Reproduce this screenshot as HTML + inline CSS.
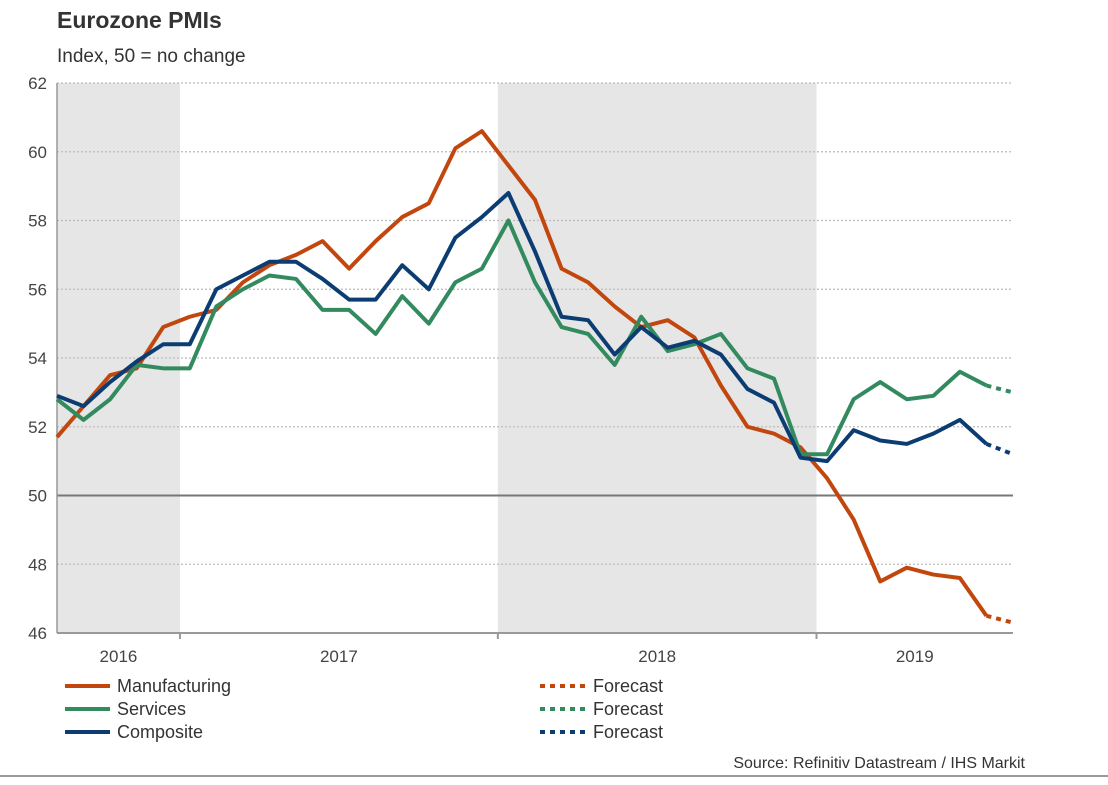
<!DOCTYPE html>
<html><head><meta charset="utf-8"><style>
body{margin:0;background:#fff;font-family:"Liberation Sans",Arial,sans-serif;}
svg text{font-family:"Liberation Sans",Arial,sans-serif;}
</style></head><body>
<svg id="chart" width="1108" height="780" viewBox="0 0 1108 780" xmlns="http://www.w3.org/2000/svg">
<text x="57" y="28" font-size="23" font-weight="bold" fill="#333">Eurozone PMIs</text>
<text x="57" y="62" font-size="19" fill="#333">Index, 50 = no change</text>
<g id="plot"></g>
<g font-size="18" fill="#333">
<line x1="65" y1="686" x2="110" y2="686" stroke="#c2470f" stroke-width="4"/><text x="117" y="692">Manufacturing</text>
<line x1="65" y1="709" x2="110" y2="709" stroke="#338a5e" stroke-width="4"/><text x="117" y="715">Services</text>
<line x1="65" y1="732" x2="110" y2="732" stroke="#0c3d72" stroke-width="4"/><text x="117" y="738">Composite</text>
<line x1="540" y1="686" x2="587" y2="686" stroke="#c2470f" stroke-width="4" stroke-dasharray="5,5"/><text x="593" y="692">Forecast</text>
<line x1="540" y1="709" x2="587" y2="709" stroke="#338a5e" stroke-width="4" stroke-dasharray="5,5"/><text x="593" y="715">Forecast</text>
<line x1="540" y1="732" x2="587" y2="732" stroke="#0c3d72" stroke-width="4" stroke-dasharray="5,5"/><text x="593" y="738">Forecast</text>
</g>
<text x="1025" y="768" font-size="16" fill="#333" text-anchor="end">Source: Refinitiv Datastream / IHS Markit</text>
<line x1="0" y1="776" x2="1108" y2="776" stroke="#999" stroke-width="2"/>
</svg>
<script>
const manufacturing=[51.7,52.6,53.5,53.7,54.9,55.2,55.4,56.2,56.7,57.0,57.4,56.6,57.4,58.1,58.5,60.1,60.6,59.6,58.6,56.6,56.2,55.5,54.9,55.1,54.6,53.2,52.0,51.8,51.4,50.5,49.3,47.5,47.9,47.7,47.6,46.5,46.3];
const services=[52.8,52.2,52.8,53.8,53.7,53.7,55.5,56.0,56.4,56.3,55.4,55.4,54.7,55.8,55.0,56.2,56.6,58.0,56.2,54.9,54.7,53.8,55.2,54.2,54.4,54.7,53.7,53.4,51.2,51.2,52.8,53.3,52.8,52.9,53.6,53.2,53.0];
const composite=[52.9,52.6,53.3,53.9,54.4,54.4,56.0,56.4,56.8,56.8,56.3,55.7,55.7,56.7,56.0,57.5,58.1,58.8,57.1,55.2,55.1,54.1,54.9,54.3,54.5,54.1,53.1,52.7,51.1,51.0,51.9,51.6,51.5,51.8,52.2,51.5,51.2];
const yTicks=[46,48,50,52,54,56,58,60,62];
const years=["2016","2017","2018","2019"];
const yearStarts=[-0.15,4.63,16.6,28.6,36];
const forecastStart=35;
const X0=57,X1=1013,Y0=83,Y1=633,N=manufacturing.length;
const xs=i=>X0+i*(X1-X0)/(N-1);
const ys=v=>Y0+(62-v)*(Y1-Y0)/(62-46);
const NS="http://www.w3.org/2000/svg";
const g=document.getElementById('plot');
function mk(t,a){const e=document.createElementNS(NS,t);for(const k in a)e.setAttribute(k,a[k]);g.appendChild(e);return e;}
[0,2].forEach(k=>{
 const r=mk('rect',{x:Math.max(X0,xs(yearStarts[k])),y:Y0,width:xs(yearStarts[k+1])-Math.max(X0,xs(yearStarts[k])),height:Y1-Y0,fill:'#e6e6e6'});
 
 
});
yTicks.forEach(v=>{
 if(v!==50&&v!==46){const l=mk('line',{x1:X0,x2:X1,y1:ys(v),y2:ys(v),stroke:'#bbb','stroke-width':1.2,'stroke-dasharray':'2,2'});
 
 }
 const t=mk('text',{x:47,y:ys(v)+6,'font-size':17,fill:'#444','text-anchor':'end'});t.textContent=v;
 
 
});
const l50=mk('line',{x1:X0,x2:X1,y1:ys(50),y2:ys(50),stroke:'#777','stroke-width':2});


const xa=mk('line',{x1:X0,x2:X1,y1:Y1,y2:Y1,stroke:'#999','stroke-width':2});


const ya=mk('line',{x1:X0,x2:X0,y1:Y0,y2:Y1,stroke:'#999','stroke-width':1.5});


years.forEach((y,k)=>{
 const a=Math.max(X0,xs(yearStarts[k])),b=xs(yearStarts[k+1]);
 if(k>0){const tk=mk('line',{x1:a,x2:a,y1:Y1,y2:Y1+6,stroke:'#999','stroke-width':2});
 
 }
 const t=mk('text',{x:(a+b)/2,y:662,'font-size':17,fill:'#444','text-anchor':'middle'});t.textContent=y;
 
 
});
function series(arr,col,name){
 let d='';for(let i=0;i<=forecastStart;i++)d+=(i?'L':'M')+xs(i)+','+ys(arr[i]);
 const p=mk('path',{d:d,fill:'none',stroke:col,'stroke-width':4,'stroke-linejoin':'round'});
 
 
 let f='';for(let i=forecastStart;i<arr.length;i++)f+=(i>forecastStart?'L':'M')+xs(i)+','+ys(arr[i]);
 const q=mk('path',{d:f,fill:'none',stroke:col,'stroke-width':4,'stroke-dasharray':'5,5'});
 
 
}
series(manufacturing,'#c2470f','manufacturing');
series(services,'#338a5e','services');
series(composite,'#0c3d72','composite');
</script>
</body></html>
